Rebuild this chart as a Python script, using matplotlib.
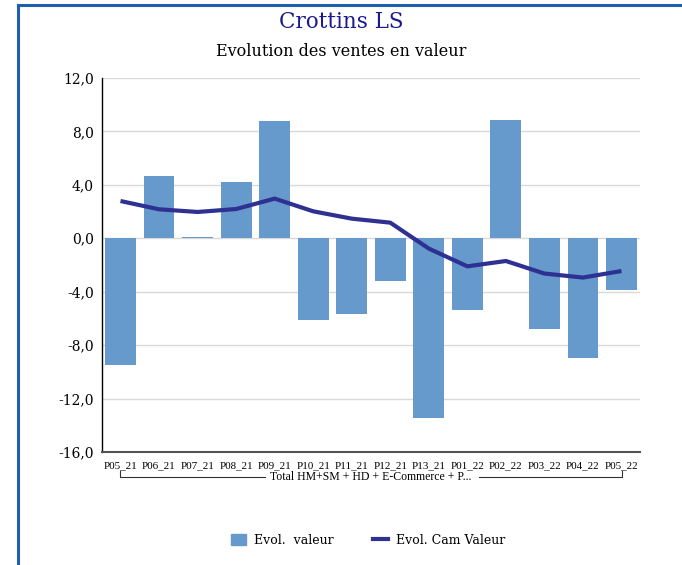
import matplotlib
matplotlib.use("Agg")
import matplotlib.pyplot as plt
from matplotlib.lines import Line2D
from matplotlib.patches import Patch
import matplotlib.transforms as mtransforms

categories = ["P05_21", "P06_21", "P07_21", "P08_21", "P09_21", "P10_21", "P11_21",
              "P12_21", "P13_21", "P01_22", "P02_22", "P03_22", "P04_22", "P05_22"]
evol_valeur = [-9.5, 4.7, 0.1, 4.2, 8.76, -6.14, -5.66, -3.2, -13.45, -5.39, 8.83,
               -6.81, -8.96, -3.89]
evol_cam_valeur = [2.79, 2.17, 1.97, 2.19, 2.97, 2.02, 1.47, 1.17, -0.77, -2.1, -1.7,
                   -2.64, -2.94, -2.45]
yticks = [-16, -12, -8, -4, 0, 4, 8, 12]
group_label = "Total HM+SM + HD + E-Commerce + P..."
title = "Crottins LS"
subtitle = "Evolution des ventes en valeur"

FONT = "DejaVu Serif"
NARROW = "Liberation Serif"
plt.rcParams['font.family'] = [FONT]

bar_color = "#6699cc"
line_color = "#2e3192"

fig = plt.figure(figsize=(6.82, 5.65), dpi=100)
ax = fig.add_axes([102/682, 1-452/565, (640-102)/682, (452-78)/565])

for s in ['top', 'right']:
    ax.spines[s].set_visible(False)
ax.spines['left'].set_color('black')
ax.spines['left'].set_linewidth(1)
ax.spines['bottom'].set_color('#555555')
ax.spines['bottom'].set_linewidth(1.5)
ax.spines['bottom'].set_position(('data', -16))

x = list(range(len(categories)))
ax.bar(x, evol_valeur, width=0.8, color=bar_color, zorder=2)
ax.plot(x, evol_cam_valeur, color=line_color, lw=3, zorder=3, solid_capstyle='butt')

ax.set_xlim(-0.48, len(categories) - 0.52)
ax.set_ylim(-16, 12)
ax.tick_params(axis='y', length=0, pad=6, labelsize=10)
ax.tick_params(axis='x', length=0, pad=7, labelsize=7.9, labelfontfamily=NARROW)
ax.set_yticks(yticks)
ax.set_yticklabels([f"{v:.1f}".replace(".", ",") for v in yticks])
ax.yaxis.grid(True, color="#d9d9d9", lw=1, zorder=0)
ax.set_axisbelow(True)
ax.set_xticks(x)
ax.set_xticklabels(categories)

# group bracket
trans = mtransforms.blended_transform_factory(ax.transData, ax.transAxes)
yb = -(477-452)/374
yt = -(471-452)/374
x0, x1 = 0, len(categories) - 1
xm = (x0 + x1) / 2
ax.plot([x0, x0, 3.75], [yt, yb, yb], color="#333333", lw=0.8, transform=trans, clip_on=False)
ax.plot([9.3, x1, x1], [yb, yb, yt], color="#333333", lw=0.8, transform=trans, clip_on=False)
ax.text(xm, yb, group_label, transform=trans, ha='center', va='center', fontsize=8.5,
        family=NARROW)

fig.text(0.5, 1-22/565, title, ha='center', va='center', fontsize=15.5, color="#1a1a8c")
fig.text(0.5, 1-52/565, subtitle, ha='center', va='center', fontsize=11.5, color="black")

handles = [Patch(color=bar_color), Line2D([0], [0], color=line_color, lw=3)]
fig.legend(handles, ["Evol.  valeur", "Evol. Cam Valeur"], loc='center',
           bbox_to_anchor=(368/682, 1-540/565), ncol=2, frameon=False, fontsize=9,
           handlelength=1.2, handleheight=1.0, columnspacing=3.2, handletextpad=0.6)

# figure border (left and top)
fig.add_artist(Line2D([18/682, 18/682], [0, 1-5/565], color="#1f5fae", lw=2.2, transform=fig.transFigure))
fig.add_artist(Line2D([18/682, 1], [1-5/565, 1-5/565], color="#1f5fae", lw=2.2, transform=fig.transFigure))

fig.savefig("out.png", dpi=100)
